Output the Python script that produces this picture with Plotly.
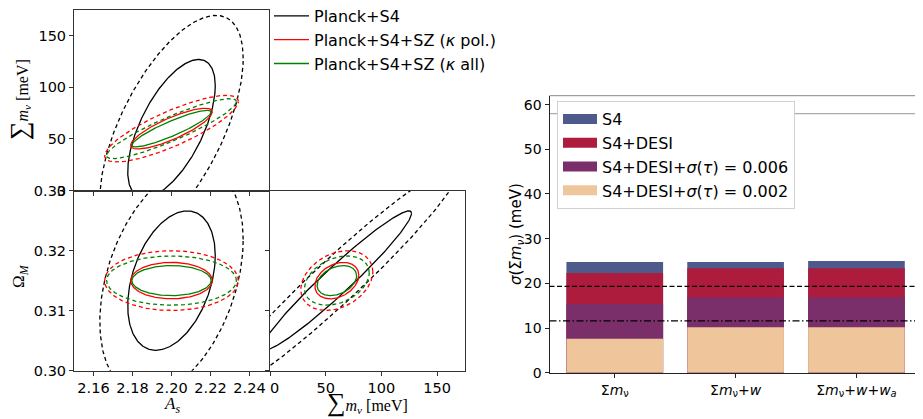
import numpy as np
import plotly.graph_objects as go

# ---------------- data: Fisher ellipse parameters ----------------
experiments = ["Planck+S4", "Planck+S4+SZ (<i>κ</i> pol.)", "Planck+S4+SZ (<i>κ</i> all)"]
exp_colors = ["black", "#ff0000", "#008000"]
center_As = 2.20
center_mnu = 60.0
center_Om = 0.315
sigma_As = [0.0148, 0.0138, 0.0134]
sigma_mnu = [44.2, 13.0, 11.7]
sigma_Om = [0.00765, 0.0020, 0.00165]
rho_As_mnu = [0.62, 0.82, 0.90]
rho_As_Om = [0.36, 0.0, 0.0]
rho_mnu_Om = [0.965, 0.30, 0.32]
dchi2_levels = [2.30, 6.17]   # 1 sigma (solid), 2 sigma (dashed)

As_ticks = [2.16, 2.18, 2.20, 2.22, 2.24]
As_ticktext = ["2.16", "2.18", "2.20", "2.22", "2.24"]
mnu_ticks = [0, 50, 100, 150]
Om_ticks = [0.30, 0.31, 0.32, 0.33]
Om_ticktext = ["0.30", "0.31", "0.32", "0.33"]

# ---------------- data: bar chart ----------------
bar_categories = ["Σ<i>m</i><sub>ν</sub>", "Σ<i>m</i><sub>ν</sub>+<i>w</i>",
                  "Σ<i>m</i><sub>ν</sub>+<i>w</i>+<i>w</i><sub><i>a</i></sub>"]
bar_series_names = ["S4", "S4+DESI", "S4+DESI+<i>σ</i>(<i>τ</i>) = 0.006", "S4+DESI+<i>σ</i>(<i>τ</i>) = 0.002"]
bar_S4 = [24.8, 24.8, 25.0]
bar_S4_DESI = [22.3, 23.4, 23.4]
bar_tau006 = [15.4, 16.9, 16.9]
bar_tau002 = [7.6, 10.2, 10.2]
bar_colors = ["#4e5a8c", "#ad1b3d", "#7a2f6b", "#efc69b"]
bar_yticks = [0, 10, 20, 30, 40, 50, 60]
hline_gray = 58.0
hline_dashed = 19.3
hline_dashdot = 11.6

# the page body adds an 8px margin, so the figure is offset on screen
OFF = 8
W, H = 923 - OFF, 419 - OFF


def ellipse(cx, cy, sx, sy, rho, dchi2, n=300):
    t = np.linspace(0, 2 * np.pi, n)
    k = np.sqrt(dchi2)
    x = cx + k * sx * np.cos(t)
    y = cy + k * sy * (rho * np.cos(t) + np.sqrt(1 - rho ** 2) * np.sin(t))
    return x, y


def fx(s):
    return (s - OFF) / W


def fy(s):
    return 1 - (s - OFF) / H


fig = go.Figure()

panels = [
    ("x", "y", center_As, center_mnu, sigma_As, sigma_mnu, rho_As_mnu),
    ("x2", "y2", center_As, center_Om, sigma_As, sigma_Om, rho_As_Om),
    ("x3", "y3", center_mnu, center_Om, sigma_mnu, sigma_Om, rho_mnu_Om),
]

for i, name in enumerate(experiments):
    for p, (xa, ya, cx, cy, sx, sy, rho) in enumerate(panels):
        for j, d2 in enumerate(dchi2_levels):
            ex, ey = ellipse(cx, cy, sx[i], sy[i], rho[i], d2)
            fig.add_trace(go.Scatter(
                x=ex, y=ey, xaxis=xa, yaxis=ya, mode="lines",
                line=dict(color=exp_colors[i], width=1.3,
                          dash="solid" if j == 0 else "4px,3px"),
                name=name, showlegend=(p == 0 and j == 0), legend="legend",
                hoverinfo="skip"))

# bars (overlaid, tallest first)
for name, vals, col in zip(bar_series_names, [bar_S4, bar_S4_DESI, bar_tau006, bar_tau002], bar_colors):
    fig.add_trace(go.Bar(x=bar_categories, y=vals, xaxis="x4", yaxis="y4",
                         marker=dict(color=col, line=dict(width=0)),
                         name=name, showlegend=False))
    fig.add_trace(go.Scatter(x=[None], y=[None], xaxis="x4", yaxis="y4", mode="lines",
                             line=dict(color=col, width=12), name=name,
                             legend="legend2", showlegend=True))


def dom_x(a, b):
    return [fx(a), fx(b)]


def dom_y(top, bot):
    return [fy(bot), fy(top)]


tickfont = dict(family="DejaVu Sans", size=14.5, color="black")
common = dict(showline=True, linecolor="#333", linewidth=1, mirror=True,
              ticks="outside", ticklen=4, tickwidth=1, tickcolor="#333",
              showgrid=False, zeroline=False, tickfont=tickfont)
bar_axis = dict(showline=True, linecolor="#222", linewidth=1, mirror=False,
                ticks="outside", ticklen=4, tickwidth=1, tickcolor="#222",
                showgrid=False, zeroline=False,
                tickfont=dict(family="DejaVu Sans", size=14, color="black"))

fig.update_layout(
    width=W, height=H, margin=dict(l=0, r=0, t=0, b=0, autoexpand=False),
    paper_bgcolor="white", plot_bgcolor="white",
    barmode="overlay", bargap=0.2,
    xaxis=dict(domain=dom_x(74, 269), range=[2.15, 2.25], anchor="y",
               tickvals=As_ticks, showticklabels=False, **common),
    yaxis=dict(domain=dom_y(10, 190.5), range=[0, 175], anchor="x",
               tickvals=mnu_ticks, **common),
    xaxis2=dict(domain=dom_x(74, 269), range=[2.15, 2.25], anchor="y2",
                tickvals=As_ticks, ticktext=As_ticktext, **common),
    yaxis2=dict(domain=dom_y(190.5, 370.7), range=[0.30, 0.33], anchor="x2",
                tickvals=Om_ticks, ticktext=Om_ticktext, **common),
    xaxis3=dict(domain=dom_x(270, 465), range=[0, 175], anchor="y3",
                tickvals=mnu_ticks,
                ticktext=["\u2007" + str(mnu_ticks[0])] + [str(v) for v in mnu_ticks[1:]], **common),
    yaxis3=dict(domain=dom_y(190.5, 370.7), range=[0.30, 0.33], anchor="x3",
                tickvals=Om_ticks, showticklabels=False, **common),
    xaxis4=dict(domain=dom_x(549.5, 921.7), range=[-0.54, 2.54], anchor="y4", type="category",
                **bar_axis),
    yaxis4=dict(domain=dom_y(95.7, 372.7), range=[0, 62], anchor="x4",
                tickvals=bar_yticks, **bar_axis),
    legend=dict(x=fx(269), y=fy(-1), xanchor="left", yanchor="top",
                bgcolor="rgba(0,0,0,0)", borderwidth=0,
                font=dict(family="DejaVu Sans", size=16, color="black"),
                itemwidth=35, tracegroupgap=0),
    legend2=dict(x=fx(557), y=fy(101), xanchor="left", yanchor="top",
                 bgcolor="white", bordercolor="#d0d0d0", borderwidth=1,
                 font=dict(family="DejaVu Sans", size=16, color="black"),
                 itemwidth=34, tracegroupgap=0),
    showlegend=True,
)

fig.add_shape(type="line", xref="x4 domain", yref="y4", x0=0, x1=1, y0=hline_gray, y1=hline_gray,
              line=dict(color="#aaaaaa", width=1.2), layer="below")
fig.add_shape(type="line", xref="x4 domain", yref="y4", x0=0, x1=1, y0=hline_dashed, y1=hline_dashed,
              line=dict(color="black", width=1.3, dash="5px,2.5px"))
fig.add_shape(type="line", xref="x4 domain", yref="y4", x0=0, x1=1, y0=hline_dashdot, y1=hline_dashdot,
              line=dict(color="black", width=1.3, dash="7px,2.5px,1.5px,2.5px"))
fig.add_shape(type="line", xref="x4 domain", yref="y4 domain", x0=0, x1=1, y0=1, y1=1,
              line=dict(color="#888888", width=1))
fig.add_shape(type="line", xref="x4 domain", yref="y4 domain", x0=1, x1=1, y0=0, y1=1,
              line=dict(color="#888888", width=1))

serif = "Liberation Serif"
big = '<span style="font-size:26px">∑</span>'
fig.add_annotation(text=big + "<i>m</i><sub><i>ν</i></sub> [meV]", x=fx(20), y=fy(100),
                   xref="paper", yref="paper", showarrow=False, textangle=-90,
                   xanchor="center", yanchor="middle",
                   font=dict(family=serif, size=16, color="black"))
fig.add_annotation(text="Ω<sub><i>M</i></sub>", x=fx(20), y=fy(276),
                   xref="paper", yref="paper", showarrow=False, textangle=-90,
                   xanchor="center", yanchor="middle",
                   font=dict(family=serif, size=17, color="black"))
fig.add_annotation(text="<i>A</i><sub><i>s</i></sub>", x=fx(172), y=fy(405),
                   xref="paper", yref="paper", showarrow=False,
                   xanchor="center", yanchor="middle",
                   font=dict(family=serif, size=17, color="black"))
fig.add_annotation(text=big + "<i>m</i><sub><i>ν</i></sub> [meV]", x=fx(367), y=fy(402),
                   xref="paper", yref="paper", showarrow=False,
                   xanchor="center", yanchor="middle",
                   font=dict(family=serif, size=16, color="black"))
fig.add_annotation(text="<i>σ</i>(Σ<i>m</i><sub><i>ν</i></sub>) (meV)", x=fx(516), y=fy(234),
                   xref="paper", yref="paper", showarrow=False, textangle=-90,
                   xanchor="center", yanchor="middle",
                   font=dict(family="DejaVu Sans", size=15, color="black"))

fig.write_html("out.html")
